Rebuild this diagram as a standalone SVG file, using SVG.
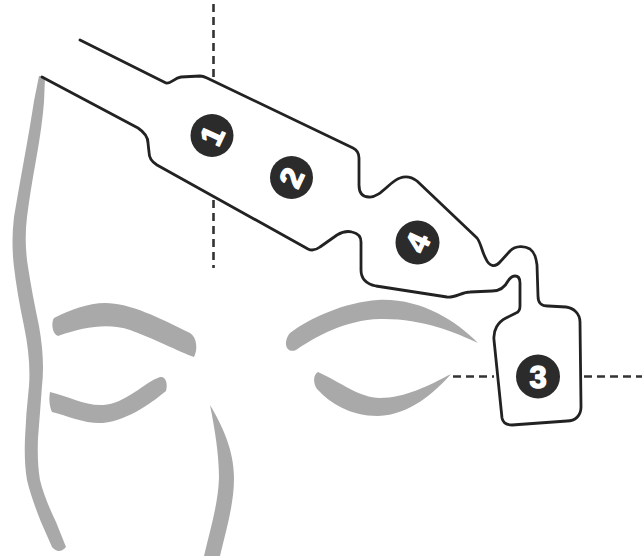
<svg xmlns="http://www.w3.org/2000/svg" width="642" height="556" viewBox="0 0 642 556">
  <style>
    .face { fill: #a9a9a9; stroke: none; }
    .strip { fill: none; stroke: #222; stroke-width: 2.8; stroke-linejoin: round; stroke-linecap: round; }
    .guide { fill: none; stroke: #333; stroke-width: 2.6; stroke-dasharray: 8 5; }
    .pad { fill: #2b2b2b; }
    .num { fill: #fff; stroke: #fff; stroke-width: 1.4; stroke-linejoin: round; font-family: "Liberation Sans", Arial, sans-serif; font-weight: bold; font-size: 31px; text-anchor: middle; }
  </style>
  <rect width="642" height="556" fill="#fff"/>

  <!-- face sketch -->
  <g id="face">
    <path class="face" d="M39,76 L34,101 Q30,127 24,160 Q18,193 14,217 Q11,242 14,267 Q17,293 24,326 Q31,360 29,386 Q26,413 25,438 Q24,463 27,480 Q31,497 41,522 L52,547 Q59,555 66,547 L56,522 Q44,497 40,480 Q37,463 38,438 Q40,413 42,386 Q45,360 39,326 Q32,293 28,267 Q24,242 27,217 Q30,193 36,160 Q42,127 44,102 L45,77 Z"/>
    <path class="face" d="M210,405 C222,425 234,450 234,478 C234,505 226,530 220,556 L204,556 C210,530 218,505 219,478 C219,455 215,430 210,405 Z"/>
    <path class="face" d="M54,318 C70,310 88,303 105,303 C130,303 160,318 190,333 C197,337 198,350 194,357 C180,352 150,337 130,330 C110,323 85,326 58,336 C52,334 51,322 54,318 Z"/>
    <path class="face" d="M50,392 C68,396 85,406 103,405 C125,404 145,382 160,377 C166,376 168,384 166,391 C155,400 130,420 103,423 C85,424 68,416 52,412 C49,405 49,398 50,392 Z"/>
    <path class="face" d="M290,333 C310,318 345,302 378,300 C420,298 455,320 478,343 C455,332 420,318 380,319 C345,320 315,337 296,350 C287,354 282,343 290,333 Z"/>
    <path class="face" d="M318,372 C340,382 360,398 380,398 C405,398 430,385 451,374 C435,392 410,415 378,416 C350,416 330,403 317,389 C313,383 313,375 318,372 Z"/>
  </g>

  <!-- dashed guide lines -->
  <g id="connectors">
    <line class="guide" x1="213.5" y1="4" x2="213.5" y2="77"/>
    <line class="guide" x1="213.5" y1="200" x2="213.5" y2="268"/>
    <line class="guide" x1="453" y1="376.5" x2="494" y2="376.5"/>
    <line class="guide" x1="584" y1="376.5" x2="642" y2="376.5"/>
  </g>

  <!-- electrode strip outline -->
  <g id="strip">
    <path class="strip" d="M80,40 L166,83 C171,84 174,78 181,77 L200,76 C203,76 205,77 207,78 L353,148 C357,150 359,153 359,158 L359,185 C359,193 362,197 369,197 C380,198 390,181 400,178 C408,175 413,178 417,181 L477,238 C481,243 482,252 486,259 C489,266 495,268 500,262 L510,251 C516,245 525,246 530,249 C535,253 536,258 537,265 L538,296 C538,303 541,306 548,306 L566,307 C574,308 580,314 580,322 L581,407 C581,416 575,421 567,421 L512,425 C506,425 503,423 502,418 L494,340 C493,330 498,322 506,318 L516,313 C519,312 520,310 520,306 L520,283 C520,278 518,276 515,276 C512,276 510,278 508,281 C505,287 500,291 492,291 L470,292 C462,292 455,298 447,297 L376,286 C366,284 361,279 361,270 L361,242 C361,236 357,233 352,232 C348,231 342,232 337,235 L320,247 C316,250 312,251 308,249 L157,165 C152,162 149,158 149,152 L148,143 C148,137 144,132 138,128 L42,77"/>
  </g>

  <!-- electrode pads -->
  <g id="pad1">
    <circle class="pad" cx="212" cy="135.5" r="21.5"/>
    <text class="num" x="212" y="146.5" transform="rotate(-65 212 135.5)">1</text>
  </g>
  <g id="pad2">
    <circle class="pad" cx="291.5" cy="177.5" r="21.5"/>
    <text class="num" x="291.5" y="188.5" transform="rotate(-65 291.5 177.5)">2</text>
  </g>
  <g id="pad4">
    <circle class="pad" cx="417.5" cy="242.5" r="22"/>
    <text class="num" x="417.5" y="253.5" transform="rotate(-65 417.5 242.5)">4</text>
  </g>
  <g id="pad3">
    <circle class="pad" cx="538" cy="376.5" r="22"/>
    <text class="num" x="538" y="387.5">3</text>
  </g>
</svg>
